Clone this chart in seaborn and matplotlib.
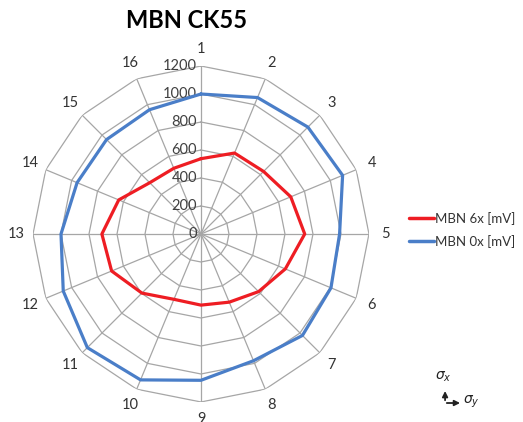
import numpy as np
import pandas as pd
import matplotlib
matplotlib.use("Agg")
import matplotlib.pyplot as plt
import seaborn as sns

# Measurement directions 1..16 and Barkhausen noise amplitudes
directions = [str(i) for i in range(1, 17)]
mbn_6x = [538, 626, 632, 694, 741, 652, 582, 527, 508, 505, 597, 691, 708, 636, 518, 508]
mbn_0x = [1000, 1055, 1080, 1095, 990, 1005, 1025, 980, 1045, 1128, 1148, 1065, 1000, 958, 954, 961]
series_names = ["MBN 6x [mV]", "MBN 0x [mV]"]
radial_ticks = [0, 200, 400, 600, 800, 1000, 1200]

sns.set_theme(style="white")
plt.rcParams["font.family"] = ["Lato", "DejaVu Sans"]

n = len(directions)
theta = np.linspace(0, 2 * np.pi, n, endpoint=False)
theta_closed = np.append(theta, 2 * np.pi)

rows = []
for name, vals in zip(series_names, [mbn_6x, mbn_0x]):
    closed = list(vals) + [vals[0]]
    for t, v in zip(theta_closed, closed):
        rows.append({"theta": t, "value": v, "series": name})
df = pd.DataFrame(rows)

fig = plt.figure(figsize=(5.23, 4.22), dpi=100)
fig.patch.set_facecolor("white")
ax = fig.add_axes([0.0631, 0.0474, 0.6424, 0.7962], projection="polar")
ax.set_theta_zero_location("N")
ax.set_theta_direction(-1)
ax.set_ylim(0, 1200)

grid_color = "#a6a6a6"
# spider-web grid: one straight-edged polygon per radial tick
for r in radial_ticks[1:]:
    ax.plot(theta_closed, [r] * (n + 1), color=grid_color, lw=0.9, zorder=1)
ax.yaxis.grid(False)
ax.xaxis.grid(True, color=grid_color, lw=0.9)
ax.spines["polar"].set_visible(False)

ax.set_xticks(theta)
ax.set_xticklabels(directions, fontsize=10.5, color="#333333")
ax.tick_params(axis="x", pad=-1)
ax.set_yticks(radial_ticks)
ax.set_yticklabels([])
for r in radial_ticks:
    ax.annotate(str(r), xy=(0, r), xytext=(-3, 0), textcoords="offset points",
                ha="right", va="center", fontsize=10.5, color="#404040", zorder=2)

palette = {"MBN 6x [mV]": "#ee1d23", "MBN 0x [mV]": "#4a7ec8"}
sns.lineplot(data=df, x="theta", y="value", hue="series", palette=palette,
             sort=False, estimator=None, lw=2.3, ax=ax, zorder=3)
ax.set_xlabel("")
ax.set_ylabel("")
ax.set_ylim(0, 1200)

leg = ax.legend(loc="center left", bbox_to_anchor=(0.782, 0.455),
                bbox_transform=fig.transFigure, frameon=False, fontsize=9.5,
                handlelength=1.9, handletextpad=0.1, labelspacing=0.75,
                borderaxespad=0, borderpad=0)
for txt in leg.get_texts():
    txt.set_color("#333333")
for line in leg.get_lines():
    line.set_linewidth(2.5)

fig.text(0.357, 0.952, "MBN CK55", ha="center", va="center",
         fontsize=17, fontweight="bold", color="black")

# stress axes sketch
fig.text(0.847, 0.107, r"$\sigma_x$", ha="center", va="center", fontsize=10, color="#222222")
fig.text(0.901, 0.047, r"$\sigma_y$", ha="center", va="center", fontsize=10, color="#222222")
fig.patches.append(matplotlib.patches.FancyArrowPatch(
    (0.851, 0.045), (0.851, 0.080), transform=fig.transFigure, arrowstyle="-|>",
    mutation_scale=8, lw=1.3, color="#222222"))
fig.patches.append(matplotlib.patches.FancyArrowPatch(
    (0.849, 0.045), (0.885, 0.045), transform=fig.transFigure, arrowstyle="-|>",
    mutation_scale=8, lw=1.3, color="#222222"))

fig.savefig("out.png", dpi=100, facecolor="white")
